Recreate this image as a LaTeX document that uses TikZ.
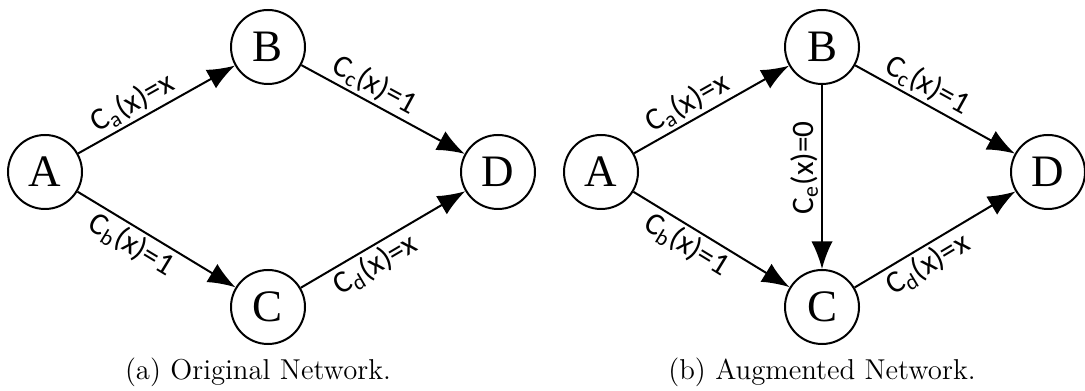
\documentclass[tikz,border=0pt]{standalone}
\usepackage{fontspec}
\newfontfamily\nodefont{Liberation Serif}
\newfontfamily\costfont{Carlito}
\usetikzlibrary{arrows.meta}

\tikzset{
  city/.style={circle, draw, line width=0.8pt, minimum size=29.6pt, inner sep=0pt,
    font=\nodefont\fontsize{18}{20}\selectfont},
  road/.style={-{Latex[length=11pt,width=8.5pt]}, line width=0.8pt},
  cost/.style={sloped, pos=0.4, inner sep=1.2pt, font=\costfont\fontsize{12.5}{14}\selectfont},
  caption/.style={font=\fontsize{11.5}{14}\selectfont},
}

\begin{document}
\begin{tikzpicture}[x=0.4pt, y=-0.4pt]
    \useasboundingbox (0,0) rectangle (1085,391);
    % (a) original network
    \foreach \n/\px/\py in {A/45/172, B/268/47, C/268/307, D/498/172}{
        \node[city] (a-\n) at (\px,\py) {\n};
    }
    \draw[road] (a-A) -- node[cost, above] {C\textsubscript{a}(x)=x} (a-B);
    \draw[road] (a-A) -- node[cost, below] {C\textsubscript{b}(x)=1} (a-C);
    \draw[road] (a-B) -- node[cost, above] {C\textsubscript{c}(x)=1} (a-D);
    \draw[road] (a-C) -- node[cost, below] {C\textsubscript{d}(x)=x} (a-D);
    \node[caption] (cap-a) at (258,372) {(a) Original Network.};
    % (b) augmented network
    \foreach \n/\px/\py in {A/601/172, B/822/47, C/822/307, D/1048/172}{
        \node[city] (b-\n) at (\px,\py) {\n};
    }
    \draw[road] (b-A) -- node[cost, above] {C\textsubscript{a}(x)=x} (b-B);
    \draw[road] (b-A) -- node[cost, below] {C\textsubscript{b}(x)=1} (b-C);
    \draw[road] (b-B) -- node[cost, above] {C\textsubscript{c}(x)=1} (b-D);
    \draw[road] (b-C) -- node[cost, below] {C\textsubscript{d}(x)=x} (b-D);
    \draw[road] (b-B) -- node[pos=0.45, above, rotate=90, inner sep=1.2pt,
        font=\costfont\fontsize{12.5}{14}\selectfont] {C\textsubscript{e}(x)=0} (b-C);
    \node[caption] (cap-b) at (822,372) {(b) Augmented Network.};
\end{tikzpicture}
\end{document}
